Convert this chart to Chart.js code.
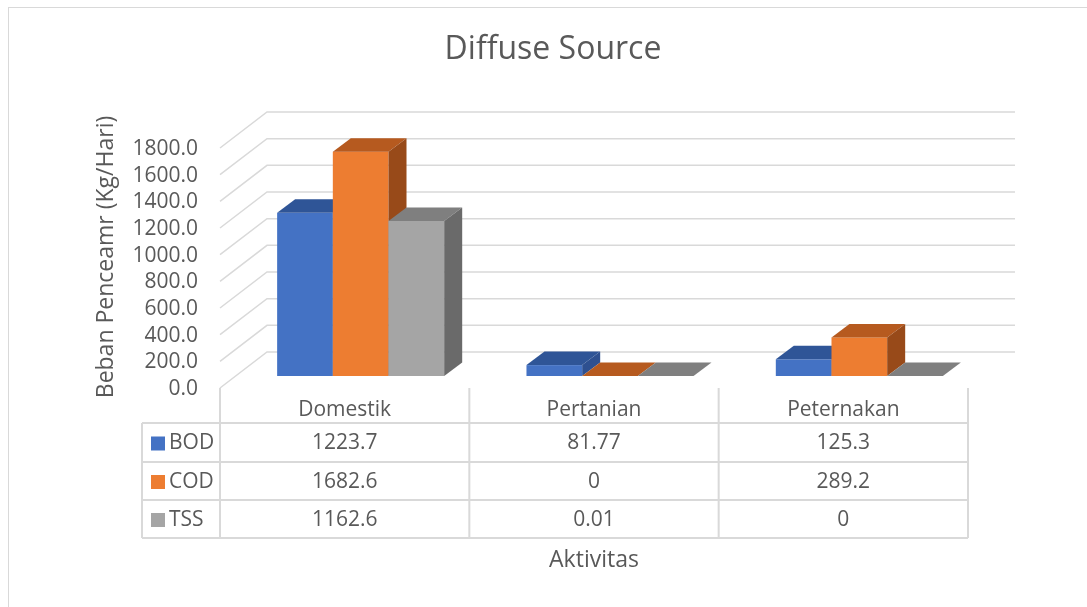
<!DOCTYPE html>
<html lang="en">
  <head>
    <meta charset="UTF-8" />
    <title>Diffuse Source</title>
    <style>
      body { margin: 0; background: #fff; }
      canvas { display: block; }
    </style>
  </head>
  <body>
    <canvas id="myChart" width="1087" height="607"></canvas>
  </body>
  <script src="https://cdn.jsdelivr.net/npm/chart.js"></script>
  <script>
    // data
    let categories = ["Domestik", "Pertanian", "Peternakan"];
    let seriesNames = ["BOD", "COD", "TSS"];
    let bod = [1223.7, 81.77, 125.3];
    let cod = [1682.6, 0, 289.2];
    let tss = [1162.6, 0.01, 0];
    let yTicks = [0, 200, 400, 600, 800, 1000, 1200, 1400, 1600, 1800];

    // front / top / side colours for each series
    let faceColors = [
      { front: "#4472C4", top: "#2F5597", side: "#2E5090" },
      { front: "#ED7D31", top: "#B65A1F", side: "#984A19" },
      { front: "#A5A5A5", top: "#7F7F7F", side: "#6A6A6A" },
    ];

    let FONT = "'Open Sans', 'Noto Sans', sans-serif";
    let TXT = "#595959";
    let GRID = "#D9D9D9";

    // 3D offsets: floor front edge and back wall relative to the bar plane
    let frontDx = -16, frontDy = 12;
    let backDx = 31, backDy = -24;
    let barDx = 18, barDy = -13.5;

    function drawBar(ctx, x0, x1, yt, yb, c) {
      // front
      if (yb - yt > 0.5) {
        ctx.fillStyle = c.front;
        ctx.fillRect(x0, yt, x1 - x0, yb - yt);
      }
      // top
      ctx.fillStyle = c.top;
      ctx.beginPath();
      ctx.moveTo(x0, yt);
      ctx.lineTo(x1, yt);
      ctx.lineTo(x1 + barDx, yt + barDy);
      ctx.lineTo(x0 + barDx, yt + barDy);
      ctx.closePath();
      ctx.fill();
      // side
      if (yb - yt > 0.5) {
        ctx.fillStyle = c.side;
        ctx.beginPath();
        ctx.moveTo(x1, yt);
        ctx.lineTo(x1 + barDx, yt + barDy);
        ctx.lineTo(x1 + barDx, yb + barDy);
        ctx.lineTo(x1, yb);
        ctx.closePath();
        ctx.fill();
      }
    }

    let chart3d = {
      id: "chart3d",
      beforeDatasetsDraw(chart) {
        let ctx = chart.ctx;
        let area = chart.chartArea;
        let y = chart.scales.y;

        ctx.save();
        // outer border
        ctx.strokeStyle = GRID;
        ctx.lineWidth = 1;
        ctx.strokeRect(8.5, 7.5, 1300, 800);

        // walls: side diagonals and back lines
        ctx.strokeStyle = GRID;
        ctx.lineWidth = 1.5;
        yTicks.forEach((v) => {
          let py = y.getPixelForValue(v);
          ctx.beginPath();
          ctx.moveTo(area.left + frontDx, py + frontDy);
          ctx.lineTo(area.left + backDx, py + backDy);
          ctx.lineTo(area.right + backDx, py + backDy);
          ctx.stroke();
        });

        // bars, category by category so the sides overlap properly
        let metas = [0, 1, 2].map((i) => chart.getDatasetMeta(i));
        for (let c = 0; c < categories.length; c++) {
          for (let s = 0; s < metas.length; s++) {
            let bar = metas[s].data[c];
            let x0 = bar.x - bar.width / 2;
            let x1 = bar.x + bar.width / 2;
            drawBar(ctx, x0, x1, bar.y, bar.base, faceColors[s]);
          }
        }

        // y tick labels on the front edge
        ctx.fillStyle = TXT;
        ctx.font = "21px " + FONT;
        ctx.textAlign = "right";
        ctx.textBaseline = "middle";
        yTicks.forEach((v) => {
          let py = y.getPixelForValue(v);
          ctx.fillText(v.toFixed(1), area.left + frontDx - 22, py + frontDy + 1);
        });

        // title
        ctx.textAlign = "center";
        ctx.font = "32px " + FONT;
        ctx.fillText("Diffuse Source", 553, 50);

        // y axis title
        ctx.save();
        ctx.translate(106, 257);
        ctx.rotate(-Math.PI / 2);
        ctx.font = "23px " + FONT;
        ctx.fillText("Beban Penceamr (Kg/Hari)", 0, 0);
        ctx.restore();

        // data table
        let catW = (area.right - area.left) / categories.length;
        let tLeft = area.left + frontDx;
        let tTop = y.getPixelForValue(0) + frontDy;
        let rowY = [423, 462, 500, 538];
        let legLeft = 142;
        ctx.strokeStyle = GRID;
        ctx.lineWidth = 2;
        ctx.beginPath();
        for (let i = 0; i <= categories.length; i++) {
          let px = tLeft + i * catW;
          ctx.moveTo(px, tTop);
          ctx.lineTo(px, rowY[3]);
        }
        ctx.moveTo(legLeft, rowY[0]);
        ctx.lineTo(legLeft, rowY[3]);
        rowY.forEach((ry) => {
          ctx.moveTo(legLeft, ry);
          ctx.lineTo(tLeft + categories.length * catW, ry);
        });
        ctx.stroke();

        ctx.font = "21px " + FONT;
        ctx.fillStyle = TXT;
        ctx.textAlign = "center";
        categories.forEach((name, i) => {
          ctx.fillText(name, tLeft + (i + 0.5) * catW, 410);
        });
        let series = [bod, cod, tss];
        series.forEach((vals, s) => {
          let cy = (rowY[s] + rowY[s + 1]) / 2 + 1;
          ctx.fillStyle = faceColors[s].front;
          ctx.fillRect(151, cy - 7, 14, 14);
          ctx.fillStyle = TXT;
          ctx.textAlign = "left";
          ctx.fillText(seriesNames[s], 169, cy);
          ctx.textAlign = "center";
          vals.forEach((v, i) => {
            ctx.fillText(String(v), tLeft + (i + 0.5) * catW, cy);
          });
        });

        // x axis title
        ctx.font = "23px " + FONT;
        ctx.fillText("Aktivitas", 594, 560);
        ctx.restore();
        return false;
      },
    };

    var ctx = document.getElementById("myChart").getContext("2d");
    var chart = new Chart(ctx, {
      type: "bar",
      data: {
        labels: categories,
        datasets: [
          { label: seriesNames[0], data: bod, backgroundColor: faceColors[0].front },
          { label: seriesNames[1], data: cod, backgroundColor: faceColors[1].front },
          { label: seriesNames[2], data: tss, backgroundColor: faceColors[2].front },
        ],
      },
      options: {
        responsive: false,
        animation: false,
        layout: { padding: { left: 236, right: 103, top: 136, bottom: 231 } },
        categoryPercentage: 0.67,
        barPercentage: 1.0,
        plugins: { legend: { display: false }, tooltip: { enabled: false } },
        scales: {
          x: { display: false },
          y: { display: false, min: 0, max: 1800 },
        },
      },
      plugins: [chart3d],
    });
  </script>
</html>
